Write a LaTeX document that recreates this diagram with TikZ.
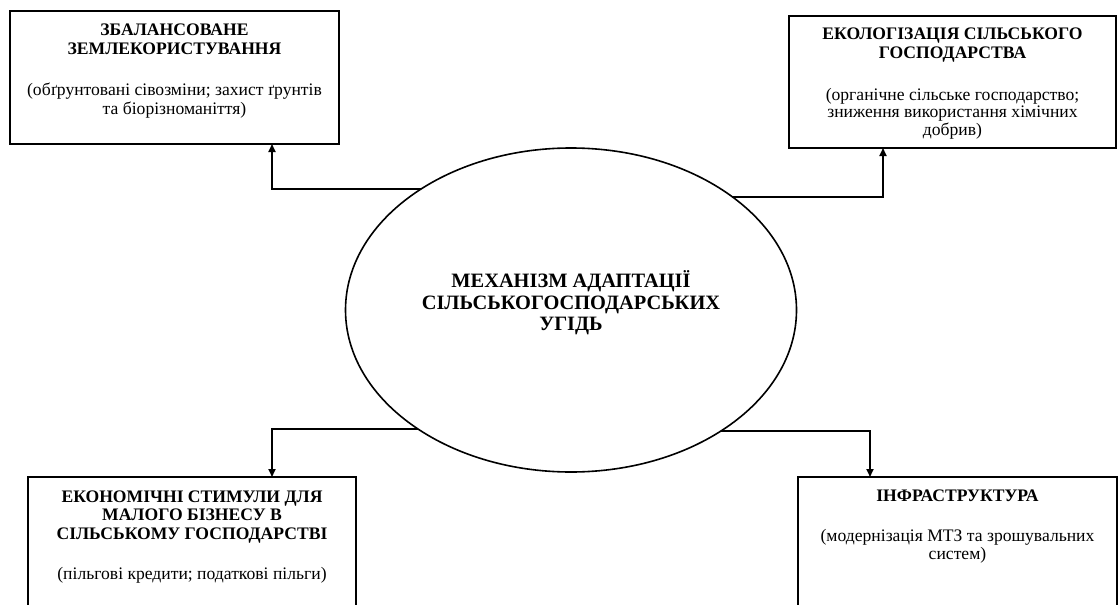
\documentclass[tikz,border=0pt]{standalone}
\usepackage{fontspec}
\setmainfont{Liberation Serif}
\usetikzlibrary{arrows.meta,shapes.geometric}
\tikzset{
  boxnode/.style={draw, line width=1.8pt, inner sep=0pt, outer sep=0pt, rectangle},
  mainell/.style={draw, ellipse, line width=1.6pt, inner sep=0pt, outer sep=0pt,
                  minimum width=451pt, minimum height=324pt},
  conn/.style={line width=1.7pt, -{Triangle[length=8pt,width=7pt]}},
}
\newcommand{\bxt}[3]{\parbox[c][#1][t]{#2}{\centering #3}}
\newcommand{\bxfont}{\fontsize{17.6}{19}\selectfont}
\begin{document}
\begin{tikzpicture}[x=1pt,y=-1pt]
\clip (0,0) rectangle (1119,605);
\fill[white] (0,0) rectangle (1119,605);

\node[boxnode] (TL) at (174.5,77.5) {\bxt{133pt}{329pt}{\bxfont\rule{0pt}{24pt}{\bfseries ЗБАЛАНСОВАНЕ\\ЗЕМЛЕКОРИСТУВАННЯ}\\[22pt](обґрунтовані сівозміни; захист ґрунтів\\та біорізноманіття)}};

\node[boxnode] (TR) at (952.5,82) {\bxt{132pt}{327pt}{\bxfont\rule{0pt}{23pt}{\bfseries ЕКОЛОГІЗАЦІЯ СІЛЬСЬКОГО\\ГОСПОДАРСТВА}\\[23pt](органічне сільське господарство;\\[-1.5pt]зниження використання хімічних\\[-1.5pt]добрив)}};

\node[boxnode] (BL) at (192,548.5) {\bxt{143pt}{328pt}{\bxfont\rule{0pt}{25pt}{\bfseries ЕКОНОМІЧНІ СТИМУЛИ ДЛЯ\\[-1pt]МАЛОГО БІЗНЕСУ В\\СІЛЬСЬКОМУ ГОСПОДАРСТВІ}\\[21pt](пільгові кредити; податкові пільги)}};

\node[boxnode] (BR) at (957.5,548.5) {\bxt{143pt}{319pt}{\bxfont\rule{0pt}{24pt}{\bfseries ІНФРАСТРУКТУРА}\\[21pt](модернізація МТЗ та зрошувальних\\[-1pt]систем)}};

\node[mainell] (E) at (571,310) {\parbox{316pt}{\centering\fontsize{20.4}{21.5}\selectfont\bfseries МЕХАНІЗМ АДАПТАЦІЇ\\СІЛЬСЬКОГОСПОДАРСЬКИХ\\УГІДЬ\par\vspace{14pt}}};

\coordinate (tlin) at (272,144);
\coordinate (trin) at (883,148);
\coordinate (blin) at (272,477);
\coordinate (brin) at (870,477);

\draw[conn] (E.141.5) -| (tlin);
\draw[conn] (E.35.07) -| (trin);
\draw[conn] (E.218.5) -| (blin);
\draw[conn] (E.321.5) -| (brin);
\end{tikzpicture}
\end{document}
